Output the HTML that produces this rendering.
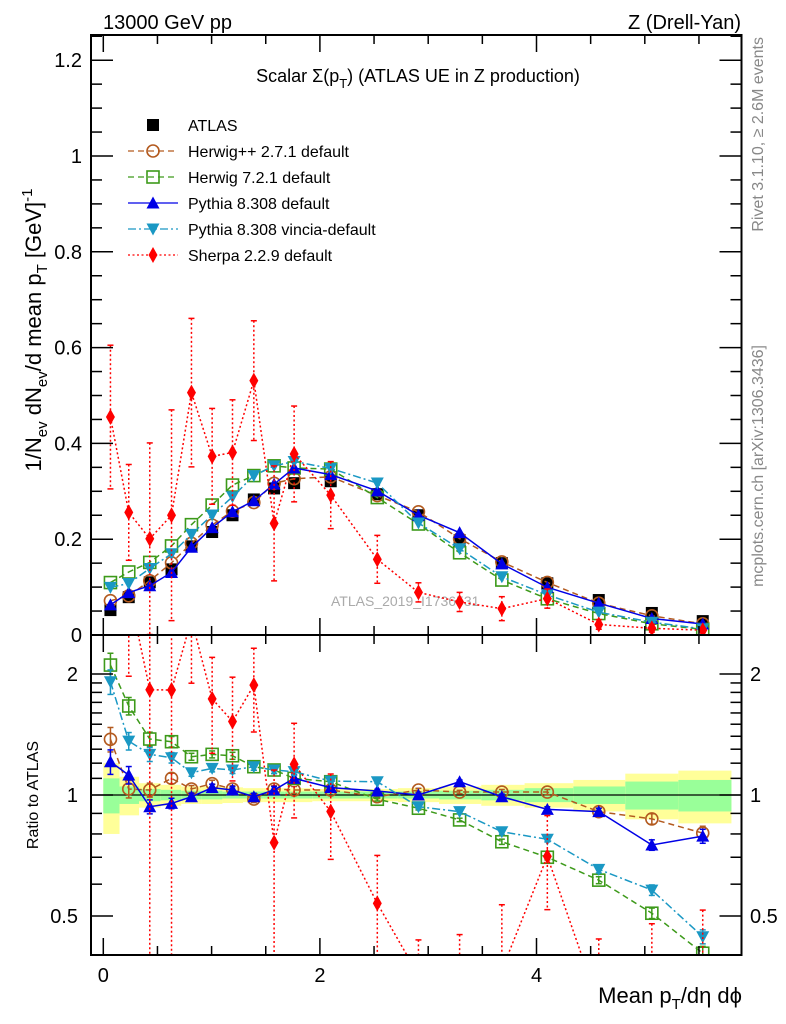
<!DOCTYPE html>
<html><head><meta charset="utf-8">
<style>
html,body{margin:0;padding:0;background:#fff;width:786px;height:1024px;overflow:hidden;}
svg{display:block;font-family:"Liberation Sans",Arial,sans-serif;}
</style></head>
<body>
<svg id="chart" width="786" height="1024" viewBox="0 0 786 1024" xmlns="http://www.w3.org/2000/svg">
<text x="103" y="29" font-size="20">13000 GeV pp</text>
<text x="741" y="29" font-size="20" text-anchor="end">Z (Drell-Yan)</text>
<text x="418" y="82" font-size="18" text-anchor="middle">Scalar Σ(p<tspan font-size="13" dy="6">T</tspan><tspan dy="-6">) (ATLAS UE in Z production)</tspan></text>
<text transform="translate(41,330) rotate(-90)" font-size="22" text-anchor="middle">1/N<tspan font-size="15" dy="6">ev</tspan><tspan dy="-6"> dN</tspan><tspan font-size="15" dy="6">ev</tspan><tspan dy="-6">/d mean p</tspan><tspan font-size="15" dy="6">T</tspan><tspan dy="-6"> [GeV]</tspan><tspan font-size="15" dy="-9">-1</tspan></text>
<text transform="translate(38,795) rotate(-90)" font-size="16" text-anchor="middle">Ratio to ATLAS</text>
<text x="742" y="1003" font-size="22" text-anchor="end">Mean p<tspan font-size="15" dy="6">T</tspan><tspan dy="-6">/dη dϕ</tspan></text>
<text transform="translate(763,37) rotate(-90)" font-size="16" fill="#888" text-anchor="end">Rivet 3.1.10, ≥ 2.6M events</text>
<text transform="translate(763,345) rotate(-90)" font-size="16" fill="#888" text-anchor="end">mcplots.cern.ch [arXiv:1306.3436]</text>
<text x="331" y="606" font-size="14" fill="#aaa">ATLAS_2019_I1736531</text>
<g id="bands"></g>
<g id="marks"></g>
<g id="axes"></g>
<g id="legend"></g>
</svg>
<script>
// ---- data ----
const xBins = [0.066,0.235,0.429,0.63,0.814,1.005,1.193,1.39,1.577,1.762,2.1,2.53,2.91,3.29,3.68,4.10,4.575,5.065,5.535];
const binEdges = [0,0.15,0.33,0.53,0.72,0.91,1.1,1.29,1.48,1.67,1.93,2.31,2.72,3.1,3.49,3.89,4.34,4.82,5.31,5.8];
const atlas = [0.052,0.079,0.11,0.137,0.185,0.215,0.25,0.283,0.306,0.317,0.321,0.294,0.25,0.198,0.15,0.108,0.073,0.046,0.029];
const bandTotal = [0.2,0.11,0.07,0.06,0.05,0.05,0.045,0.04,0.04,0.04,0.035,0.035,0.04,0.05,0.06,0.07,0.09,0.13,0.15];
const bandStat = [0.1,0.05,0.035,0.03,0.025,0.025,0.02,0.02,0.02,0.02,0.02,0.02,0.02,0.025,0.03,0.04,0.05,0.08,0.09];
const herwigPPRatio = [1.376,1.035,1.029,1.10,1.035,1.067,1.035,0.977,1.035,1.029,1.029,0.99,1.029,1.017,1.017,1.017,0.909,0.872,0.804];
const herwig7Ratio = [2.105,1.665,1.378,1.357,1.245,1.262,1.252,1.176,1.154,1.10,1.079,0.976,0.927,0.867,0.765,0.70,0.614,0.508,0.404];
const pythiaRatio = [1.21,1.121,0.935,0.953,0.99,1.043,1.029,0.99,1.029,1.10,1.043,1.023,1.0,1.079,0.99,0.921,0.909,0.751,0.79];
const vinciaRatio = [1.913,1.362,1.262,1.238,1.136,1.165,1.154,1.176,1.154,1.143,1.083,1.079,0.935,0.909,0.81,0.776,0.653,0.58,0.444];
const sherpa = [0.455,0.256,0.201,0.25,0.506,0.373,0.381,0.531,0.233,0.378,0.292,0.158,0.089,0.069,0.055,0.076,0.022,0.014,0.01];
const sherpaErr = [0.15,0.1,0.2,0.22,0.155,0.1,0.11,0.125,0.12,0.1,0.07,0.05,0.02,0.02,0.025,0.02,0.01,0.008,0.005];
const mcErr = [0.07,0.05,0.04,0.03,0.02,0.02,0.02,0.02,0.02,0.02,0.01,0.01,0.01,0.01,0.015,0.015,0.02,0.03,0.04];
const mainTicks = [0,0.2,0.4,0.6,0.8,1,1.2];
const mainTickLabels = ["0","0.2","0.4","0.6","0.8","1","1.2"];
const ratioTicks = [0.5,1,2];
const ratioTickLabels = ["0.5","1","2"];
const xTicks = [0,2,4];
const xTickLabels = ["0","2","4"];

// ---- geometry ----
const L=91, R=741.5, T=35, MB=635, RB=955;
const X0=103.3, XS=108.3;
const X = v => X0 + v*XS;
const Y = v => MB - v*479;
const RY = r => 795 - 121*Math.log2(r);
const clampY = y => Math.min(RB+8, Math.max(T-8, y));
const NS="http://www.w3.org/2000/svg";
function mk(tag, attrs, parent){const e=document.createElementNS(NS,tag);for(const k in attrs)e.setAttribute(k,attrs[k]);parent.appendChild(e);return e;}
const bands=document.getElementById('bands'), marks=document.getElementById('marks'), axes=document.getElementById('axes'), legend=document.getElementById('legend');

const defs=mk('defs',{},document.getElementById('chart'));
const c1=mk('clipPath',{id:'cm'},defs); mk('rect',{x:L,y:T,width:R-L,height:MB-T},c1);
const c2=mk('clipPath',{id:'cr'},defs); mk('rect',{x:L,y:MB,width:R-L,height:RB-MB},c2);
bands.setAttribute('clip-path','url(#cr)');

for(let i=0;i<xBins.length;i++){
  const x1=X(binEdges[i]), x2=X(binEdges[i+1]);
  const yb=mk('rect',{x:x1,y:RY(1+bandTotal[i]),width:x2-x1,height:RY(1-bandTotal[i])-RY(1+bandTotal[i]),fill:'#ffff99'},bands);
  
  
  const gb=mk('rect',{x:x1,y:RY(1+bandStat[i]),width:x2-x1,height:RY(1-bandStat[i])-RY(1+bandStat[i]),fill:'#99ff99'},bands);
  
  
}
const one=mk('line',{x1:L,x2:R,y1:RY(1),y2:RY(1),stroke:'#000','stroke-width':1.3},bands);



function marker(type,x,y,color,g){
  let e;
  if(type==='sq') e=mk('rect',{x:x-6,y:y-6,width:12,height:12,fill:'#000'},g);
  else if(type==='osq') e=mk('rect',{x:x-6,y:y-6,width:12,height:12,fill:'none',stroke:color,'stroke-width':1.6},g);
  else if(type==='oc') e=mk('circle',{cx:x,cy:y,r:6,fill:'none',stroke:color,'stroke-width':1.6},g);
  else if(type==='tu') e=mk('path',{d:`M${x-6.5},${y+5.5}L${x+6.5},${y+5.5}L${x},${y-6.5}Z`,fill:color},g);
  else if(type==='td') e=mk('path',{d:`M${x-6.5},${y-5.5}L${x+6.5},${y-5.5}L${x},${y+6.5}Z`,fill:color},g);
  else e=mk('path',{d:`M${x},${y-8}L${x+4.5},${y}L${x},${y+8}L${x-4.5},${y}Z`,fill:color},g);
  return e;
}
function errbar(x,y1,y2,color,g,dash){
  y1=clampY(y1); y2=clampY(y2);
  const e=mk('line',{x1:x,x2:x,y1:y1,y2:y2,stroke:color,'stroke-width':1.5},g);
  if(dash) e.setAttribute('stroke-dasharray',dash);
  mk('line',{x1:x-3,x2:x+3,y1:y1,y2:y1,stroke:color,'stroke-width':1.5},g);
  mk('line',{x1:x-3,x2:x+3,y1:y2,y2:y2,stroke:color,'stroke-width':1.5},g);
}

const series=[
  {name:'herwigpp',ratio:herwigPPRatio,color:'#b35a1f',dash:'6,4',m:'oc'},
  {name:'herwig7',ratio:herwig7Ratio,color:'#3d9a1a',dash:'6,4',m:'osq'},
  {name:'pythia',ratio:pythiaRatio,color:'#0000e6',dash:'',m:'tu'},
  {name:'vincia',ratio:vinciaRatio,color:'#1a98c4',dash:'8,3,2,3',m:'td'},
];

const ga=mk('g',{'clip-path':'url(#cm)'},marks);


atlas.forEach((v,i)=>{const e=marker('sq',X(xBins[i]),Y(v),'#000',ga);
  
  });

series.forEach(s=>{
  const gm=mk('g',{'clip-path':'url(#cm)'},marks);
  
  
  const gr=mk('g',{'clip-path':'url(#cr)'},marks);
  
  
  const pm=s.ratio.map((r,i)=>[X(xBins[i]),Y(r*atlas[i])]);
  const pr=s.ratio.map((r,i)=>[X(xBins[i]),RY(r)]);
  const a={fill:'none',stroke:s.color,'stroke-width':1.5};
  if(s.dash)a['stroke-dasharray']=s.dash;
  const l1=mk('polyline',Object.assign({points:pm.map(p=>p.join(',')).join(' ')},a),gm);
  
  
  const l2=mk('polyline',Object.assign({points:pr.map(p=>p.join(',')).join(' ')},a),gr);
  
  
  s.ratio.forEach((r,i)=>{
    errbar(pr[i][0],RY(r*(1+mcErr[i])),RY(r*(1-mcErr[i])),s.color,gr);
    const e1=marker(s.m,pm[i][0],pm[i][1],s.color,gm);
    
    
    const e2=marker(s.m,pr[i][0],pr[i][1],s.color,gr);
    
    
  });
});

{
  const col='#ff0000', dash='2,2.5';
  const gm=mk('g',{'clip-path':'url(#cm)'},marks);
  
  
  const gr=mk('g',{'clip-path':'url(#cr)'},marks);
  
  
  const pm=sherpa.map((v,i)=>[X(xBins[i]),Y(v)]);
  const pr=sherpa.map((v,i)=>[X(xBins[i]),clampY(RY(v/atlas[i]))]);
  const a={fill:'none',stroke:col,'stroke-width':1.5,'stroke-dasharray':dash};
  const l1=mk('polyline',Object.assign({points:pm.map(p=>p.join(',')).join(' ')},a),gm);
  
  
  const l2=mk('polyline',Object.assign({points:sherpa.map((v,i)=>[X(xBins[i]),RY(v/atlas[i])].join(',')).join(' ')},a),gr);
  
  
  sherpa.forEach((v,i)=>{
    errbar(pm[i][0],Y(v+sherpaErr[i]),Y(Math.max(0,v-sherpaErr[i])),col,gm,dash);
    const lo=Math.max(0.01,(v-sherpaErr[i])/atlas[i]);
    errbar(pr[i][0],RY((v+sherpaErr[i])/atlas[i]),RY(lo),col,gr,dash);
    const e1=marker('d',pm[i][0],pm[i][1],col,gm);
    
    
    const ry=RY(v/atlas[i]);
    if(ry>MB-10 && ry<RB+10){
      const e2=marker('d',pr[i][0],ry,col,gr);
      
      
    }
  });
}

const f1=mk('rect',{x:L,y:T,width:R-L,height:MB-T,fill:'none',stroke:'#000','stroke-width':2},axes);


const f2=mk('rect',{x:L,y:MB,width:R-L,height:RB-MB,fill:'none',stroke:'#000','stroke-width':2},axes);


function tk(x1,y1,x2,y2){mk('line',{x1,y1,x2,y2,stroke:'#000','stroke-width':1.5},axes);}
for(let v=0;v<=5.8;v+=0.5){
  const x=X(v), major=Math.abs(v-Math.round(v/2)*2)<1e-6;
  const len=major?17:9;
  tk(x,T,x,T+len); tk(x,MB,x,MB-len); tk(x,MB,x,MB+len); tk(x,RB,x,RB-len);
}
xTicks.forEach((v,i)=>{const t=mk('text',{x:X(v),y:982,'font-size':20,'text-anchor':'middle'},axes);t.textContent=xTickLabels[i];
  
  });
for(let k=0;k<=25;k++){const v=k*0.05;const y=Y(v);if(y<T)break;const major=k%4===0;const len=major?22:11;tk(L,y,L+len,y);tk(R,y,R-len,y);}
mainTicks.forEach((v,i)=>{const t=mk('text',{x:82,y:Y(v)+7,'font-size':20,'text-anchor':'end'},axes);t.textContent=mainTickLabels[i];
  
  });
[0.4,0.5,0.6,0.7,0.8,0.9,1,2].forEach(v=>{const y=RY(v);const major=ratioTicks.includes(v);const len=major?22:11;tk(L,y,L+len,y);tk(R,y,R-len,y);});
[1.1,1.2,1.3,1.4,1.5,1.6,1.7,1.8,1.9].forEach(v=>{const y=RY(v);tk(L,y,L+11,y);tk(R,y,R-11,y);});
ratioTicks.forEach((v,i)=>{
  const t=mk('text',{x:78,y:RY(v)+7,'font-size':20,'text-anchor':'end'},axes);t.textContent=ratioTickLabels[i];
  
  
  const t2=mk('text',{x:750,y:RY(v)+7,'font-size':20},axes);t2.textContent=ratioTickLabels[i];
  
  
});

const leg=[
  ['ATLAS','sq','#000',null],
  ['Herwig++ 2.7.1 default','oc','#b35a1f','6,4'],
  ['Herwig 7.2.1 default','osq','#3d9a1a','6,4'],
  ['Pythia 8.308 default','tu','#0000e6',''],
  ['Pythia 8.308 vincia-default','td','#1a98c4','8,3,2,3'],
  ['Sherpa 2.2.9 default','d','#ff0000','2,2.5'],
];
leg.forEach((e,i)=>{
  const y=124+i*26;
  const g=mk('g',{},legend);
  
  
  if(e[3]!==null){const a={x1:128,x2:178,y1:y+1,y2:y+1,stroke:e[2],'stroke-width':1.3};if(e[3])a['stroke-dasharray']=e[3];mk('line',a,g);}
  marker(e[1],153,y+1,e[2],g);
  const t=mk('text',{x:188,y:y+7,'font-size':16},g);t.textContent=e[0];
});
</script>
</body></html>
